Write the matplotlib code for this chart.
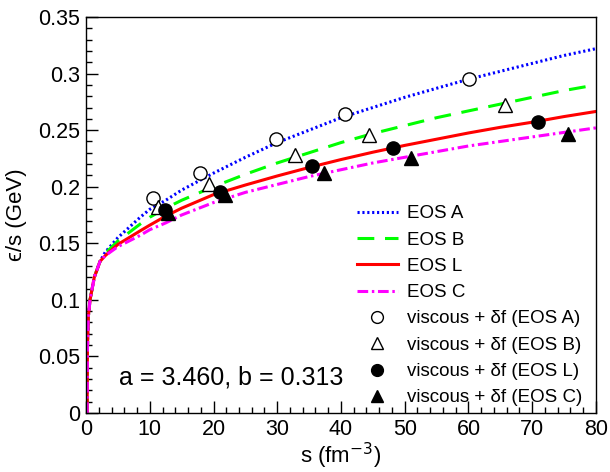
import matplotlib
matplotlib.use('Agg')
import matplotlib.pyplot as plt
from matplotlib.ticker import MultipleLocator, FuncFormatter
from matplotlib.lines import Line2D

plt.rcParams['font.family'] = ['Liberation Sans', 'DejaVu Sans']
plt.rcParams['mathtext.fontset'] = 'dejavusans'

# common low-s part of all four curves
s_low = [0.18, 0.22, 0.36, 0.63, 1.3, 2.2]
e_low = [0, 0.056, 0.085, 0.1, 0.12, 0.134]

s_hi = [3, 5, 8.5, 10, 12.5, 15, 20, 25, 30, 35, 40, 45, 50, 55, 60, 65, 70, 75, 80]
eos_a = [0.142, 0.155, 0.173, 0.180, 0.188, 0.197, 0.212, 0.226, 0.239, 0.250,
         0.261, 0.270, 0.279, 0.287, 0.295, 0.302, 0.309, 0.316, 0.322]
eos_b = [0.141, 0.152, 0.167, 0.173, 0.181, 0.188, 0.200, 0.211, 0.221, 0.230,
         0.239, 0.247, 0.254, 0.261, 0.267, 0.273, 0.279, 0.285, 0.290]
eos_l = [0.139, 0.149, 0.161, 0.166, 0.174, 0.181, 0.193, 0.2015, 0.2095, 0.217,
         0.224, 0.2305, 0.2365, 0.242, 0.2475, 0.2525, 0.257, 0.262, 0.2665]
eos_c = [0.139, 0.147, 0.157, 0.162, 0.168, 0.175, 0.186, 0.195, 0.202, 0.209,
         0.215, 0.221, 0.226, 0.231, 0.236, 0.240, 0.244, 0.248, 0.252]

# viscous + delta f points
s_pa = [10.5, 17.9, 29.8, 40.6, 60.1]
e_pa = [0.190, 0.212, 0.242, 0.264, 0.295]
s_pb = [11.3, 19.3, 32.8, 44.4, 65.7]
e_pb = [0.182, 0.202, 0.228, 0.246, 0.272]
s_pl = [12.4, 21.0, 35.5, 48.2, 70.9]
e_pl = [0.179, 0.195, 0.218, 0.234, 0.257]
s_pc = [12.9, 21.8, 37.3, 51.0, 75.6]
e_pc = [0.177, 0.193, 0.212, 0.225, 0.247]

fig = plt.figure(figsize=(6.10, 4.72), dpi=100)
ax = fig.add_axes([0.141, 0.125, 0.836, 0.839])

lw = 2.2
ls_a = (0, (0.7, 0.9))
ls_b = (0, (5.5, 3.5))
ls_c = (0, (3.5, 1.2, 0.8, 1.2))
ax.plot(s_low + s_hi, e_low + eos_a, color='#0000ff', lw=lw, linestyle=ls_a)
ax.plot(s_low + s_hi, e_low + eos_b, color='#00ff00', lw=lw, linestyle=ls_b)
ax.plot(s_low + s_hi, e_low + eos_l, color='#ff0000', lw=lw, linestyle='-')
ax.plot(s_low + s_hi, e_low + eos_c, color='#ff00ff', lw=lw, linestyle=ls_c)

ms = 9.5
ax.plot(s_pa, e_pa, 'o', mfc='white', mec='black', mew=1.0, ms=ms, ls='none')
ax.plot(s_pb, e_pb, '^', mfc='white', mec='black', mew=1.0, ms=ms, ls='none')
ax.plot(s_pl, e_pl, 'o', mfc='black', mec='black', ms=ms, ls='none')
ax.plot(s_pc, e_pc, '^', mfc='black', mec='black', ms=ms, ls='none')

ax.set_xlim(0, 80)
ax.set_ylim(0, 0.35)
ax.xaxis.set_major_locator(MultipleLocator(10))
ax.xaxis.set_minor_locator(MultipleLocator(2))
ax.yaxis.set_major_locator(MultipleLocator(0.05))
ax.yaxis.set_minor_locator(MultipleLocator(0.01))
ax.yaxis.set_major_formatter(FuncFormatter(lambda v, p: '%g' % round(v, 3)))
ax.tick_params(which='both', direction='in', top=False, right=False, labelsize=15.5)
ax.tick_params(which='major', length=8.5, width=1.0, pad=4)
ax.tick_params(which='minor', length=4.5, width=1.0)
for sp in ax.spines.values():
    sp.set_linewidth(1.0)

ax.set_xlabel('s (fm$^{-3}$)', fontsize=16, labelpad=1)
ax.set_ylabel('\u03f5/s (GeV)', fontsize=16, labelpad=8)

ax.text(5.2, 0.031, 'a = 3.460, b = 0.313', fontsize=18, va='center')

handles = [
    Line2D([], [], color='#0000ff', lw=lw, linestyle=ls_a),
    Line2D([], [], color='#00ff00', lw=lw, linestyle=ls_b),
    Line2D([], [], color='#ff0000', lw=lw),
    Line2D([], [], color='#ff00ff', lw=lw, linestyle=ls_c),
    Line2D([], [], marker='o', mfc='white', mec='black', ms=8.5, ls='none'),
    Line2D([], [], marker='^', mfc='white', mec='black', ms=8.5, ls='none'),
    Line2D([], [], marker='o', mfc='black', mec='black', ms=8.5, ls='none'),
    Line2D([], [], marker='^', mfc='black', mec='black', ms=8.5, ls='none'),
]
labels = ['EOS A', 'EOS B', 'EOS L', 'EOS C',
          'viscous + \u03b4f (EOS A)', 'viscous + \u03b4f (EOS B)',
          'viscous + \u03b4f (EOS L)', 'viscous + \u03b4f (EOS C)']
ax.legend(handles, labels, loc='upper left', bbox_to_anchor=(0.531, 0.525),
          frameon=False, fontsize=13.5, handlelength=2.2, handletextpad=0.5,
          labelspacing=0.49, borderpad=0, borderaxespad=0, numpoints=1)

fig.savefig('out.png', dpi=100)
